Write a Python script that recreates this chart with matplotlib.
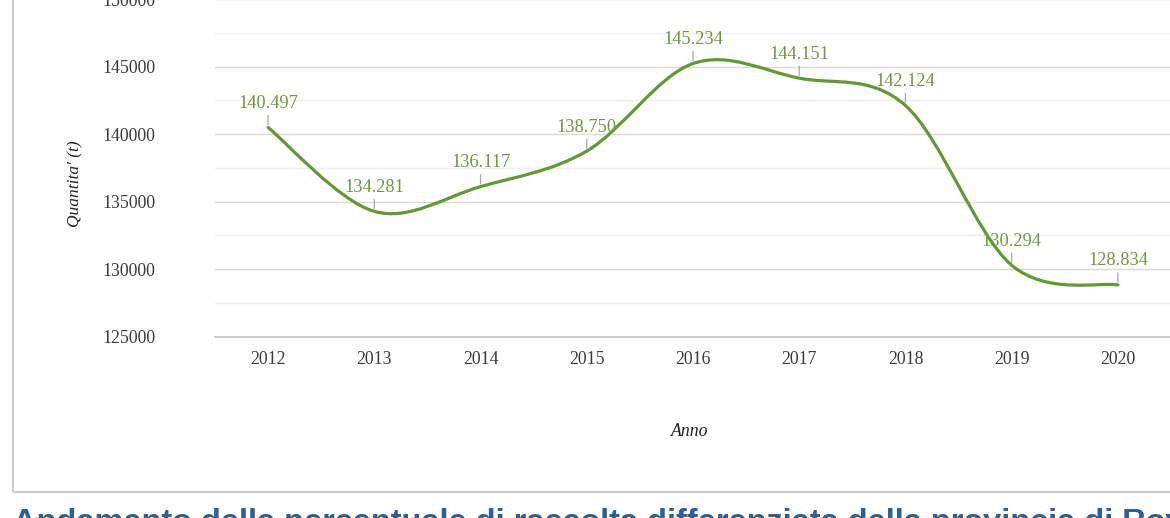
import matplotlib
matplotlib.use("Agg")
import matplotlib.pyplot as plt
from matplotlib.path import Path
from matplotlib.patches import PathPatch, Rectangle
from matplotlib.ticker import MultipleLocator
import numpy as np

years = ["2012", "2013", "2014", "2015", "2016", "2017", "2018", "2019", "2020"]
quantities = [140497, 134281, 136117, 138750, 145234, 144151, 142124, 130294, 128834]
labels = ["140.497", "134.281", "136.117", "138.750", "145.234", "144.151", "142.124", "130.294", "128.834"]
title_text = "Andamento della percentuale di raccolta differenziata della provincia di Rovigo"

W, H = 1170, 518
fig = plt.figure(figsize=(W / 100, H / 100), dpi=100)
fig.patch.set_facecolor("white")

ax = fig.add_axes([215 / W, (H - 336.7) / H, 956 / W, 337.5 / H])
ax.set_facecolor("white")

x = np.arange(len(years), dtype=float)
y = np.array(quantities, dtype=float)

# Excel-like smoothed line: cubic Bezier through points
verts = [(x[0], y[0])]
codes = [Path.MOVETO]
n = len(x)
for i in range(n - 1):
    p0 = np.array([x[max(i - 1, 0)], y[max(i - 1, 0)]])
    p1 = np.array([x[i], y[i]])
    p2 = np.array([x[i + 1], y[i + 1]])
    p3 = np.array([x[min(i + 2, n - 1)], y[min(i + 2, n - 1)]])
    c1 = p1 + (p2 - p0) / 6.0
    c2 = p2 - (p3 - p1) / 6.0
    verts += [tuple(c1), tuple(c2), tuple(p2)]
    codes += [Path.CURVE4] * 3
line_color = "#5f9a33"
ax.add_patch(PathPatch(Path(verts, codes), facecolor="none", edgecolor=line_color,
                       lw=2.3, capstyle="round", joinstyle="round", zorder=3))

ax.set_xlim(-0.5, n - 0.5)
ax.set_ylim(125000, 150000)
ax.yaxis.set_major_locator(MultipleLocator(5000))
ax.yaxis.set_minor_locator(MultipleLocator(2500))
ax.set_xticks(x)
ax.set_xticklabels(years)
ax.grid(True, which="major", axis="y", color="#d9d9d9", lw=1.0)
ax.grid(True, which="minor", axis="y", color="#efefef", lw=1.0)
ax.set_axisbelow(True)
for s in ["top", "right", "left"]:
    ax.spines[s].set_visible(False)
ax.spines["bottom"].set_color("#c4c4c4")
ax.spines["bottom"].set_linewidth(1.2)
ax.tick_params(axis="both", which="both", length=0, labelsize=12.8,
               labelcolor="#3a3a3a")
ax.tick_params(axis="y", pad=43)
ax.tick_params(axis="x", pad=10)
for lab in ax.get_xticklabels() + ax.get_yticklabels():
    lab.set_fontfamily("Liberation Serif")

label_color = "#6b9a3c"
for xi, yi, t in zip(x, y, labels):
    ax.annotate(t, xy=(xi, yi), xytext=(0, 24), textcoords="offset pixels",
                ha="center", va="center", color=label_color, fontsize=13.2,
                family="Liberation Serif", zorder=4,
                arrowprops=dict(arrowstyle="-", color="#a8a8a8", lw=0.9,
                                shrinkA=0.5, shrinkB=2))

fig.text(75 / W, 1 - 184 / H, "Quantita' (t)", rotation=90, ha="center", va="center",
         family="Liberation Serif", style="italic", fontsize=12.5, color="#222222")
fig.text(690 / W, 1 - 432 / H, "Anno", ha="center", va="center",
         family="Liberation Serif", style="italic", fontsize=12.8, color="#222222")

# surrounding border box
fig.patches.append(Rectangle((13 / W, (H - 492) / H), 1.1, 1.1, transform=fig.transFigure,
                             facecolor="none", edgecolor="#cacaca", lw=1.5, zorder=0))

fig.text(13 / W, (H - 508) / H, title_text, ha="left", va="top",
         family="Liberation Sans", weight="bold", fontsize=23.4, color="#2d5f99")

fig.savefig("out.png", dpi=100)
